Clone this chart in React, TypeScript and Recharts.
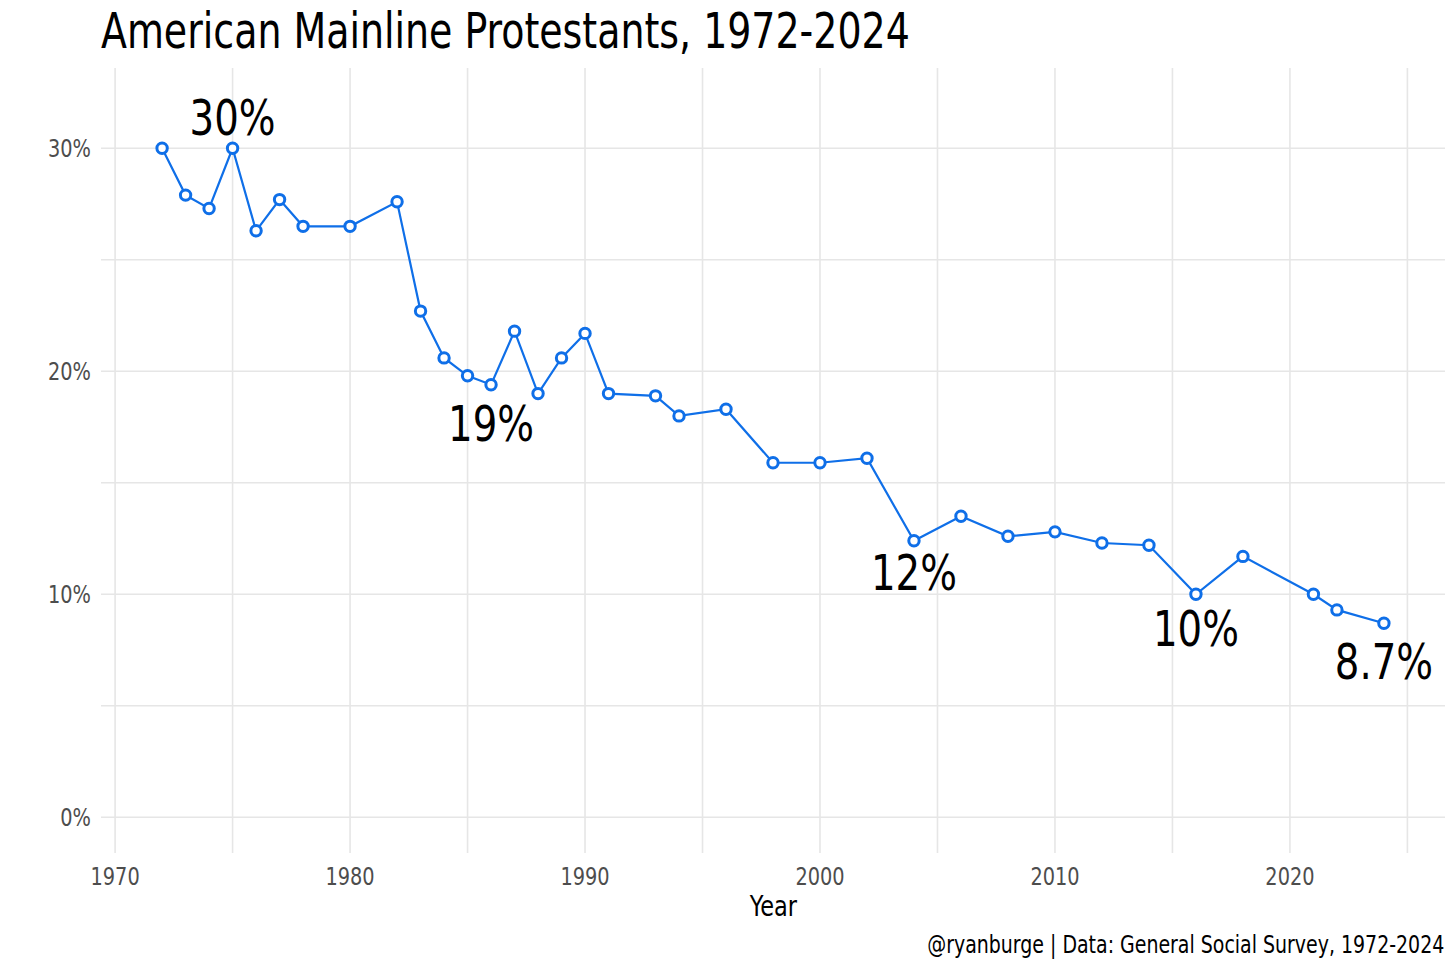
import React from 'react';
import { LineChart, Line, XAxis, YAxis, ReferenceLine, ReferenceDot } from 'recharts';

const years = [1972, 1973, 1974, 1975, 1976, 1977, 1978, 1980, 1982, 1983, 1984, 1985, 1986, 1987, 1988, 1989, 1990, 1991, 1993, 1994, 1996, 1998, 2000, 2002, 2004, 2006, 2008, 2010, 2012, 2014, 2016, 2018, 2021, 2022, 2024];
const shares = [30.0, 27.9, 27.3, 30.0, 26.3, 27.7, 26.5, 26.5, 27.6, 22.7, 20.6, 19.8, 19.4, 21.8, 19.0, 20.6, 21.7, 19.0, 18.9, 18.0, 18.3, 15.9, 15.9, 16.1, 12.4, 13.5, 12.6, 12.8, 12.3, 12.2, 10.0, 11.7, 10.0, 9.3, 8.7];

// annotation text and where it sits (data units)
const labelYears = [1975, 1986, 2004, 2016, 2024];
const labelY = [31.4, 17.7, 11.0, 8.5, 7.0];
const labelText = ['30%', '19%', '12%', '10%', '8.7%'];

const xTicks = [1970, 1980, 1990, 2000, 2010, 2020];
const xMinor = [1975, 1985, 1995, 2005, 2015, 2025];
const yTicks = [0, 10, 20, 30];
const yMinor = [5, 15, 25];

const data = years.map((y, i) => ({ year: y, share: shares[i] }));

const FONT = '"DejaVu Sans Condensed", "Liberation Sans Narrow", "Roboto", sans-serif';
const BLUE = '#0f6fe8';
const GRID = '#e6e6e6';
const SQUEEZE = 0.86;

// narrow font look: squeeze text horizontally
const XTick = (props: any) => {
    const { x, y, payload } = props;
    return (
        <g transform={`translate(${x},${y}) scale(${SQUEEZE},1)`}>
            <text textAnchor="middle" dy="0.71em" fontSize={25} fill="#4d4d4d" fontFamily={FONT}>{payload.value}</text>
        </g>
    );
};

const YTick = (props: any) => {
    const { x, y, payload } = props;
    return (
        <g transform={`translate(${x},${y}) scale(${SQUEEZE},1)`}>
            <text textAnchor="end" dy="0.36em" fontSize={25} fill="#4d4d4d" fontFamily={FONT}>{`${payload.value}%`}</text>
        </g>
    );
};

export default function App() {
    const W = 1456;
    const H = 970;
    return (
        <div style={{ position: 'absolute', left: 0, top: 0, width: W, height: H, background: '#fff', fontFamily: FONT }}>
            <div style={{ position: 'absolute', left: 101, top: 4, fontSize: 49, color: '#000', whiteSpace: 'nowrap', lineHeight: '56px', transform: `scaleX(${SQUEEZE})`, transformOrigin: 'left' }}>
                American Mainline Protestants, 1972-2024
            </div>
            <LineChart width={W} height={H} data={data} margin={{ top: 68, right: 11, bottom: 57, left: 0 }}>
                {xMinor.concat(xTicks).map(v => (
                    <ReferenceLine key={'x' + v} x={v} stroke={GRID} strokeWidth={1.6} />
                ))}
                {yMinor.concat(yTicks).map(v => (
                    <ReferenceLine key={'y' + v} y={v} stroke={GRID} strokeWidth={1.6} />
                ))}
                <XAxis
                    dataKey="year"
                    type="number"
                    domain={[1969.4, 2026.6]}
                    ticks={xTicks}
                    axisLine={false}
                    tickLine={false}
                    tickSize={0}
                    tickMargin={14}
                    height={60}
                    tick={<XTick />}
                />
                <YAxis
                    type="number"
                    domain={[-1.6, 33.6]}
                    ticks={yTicks}
                    axisLine={false}
                    tickLine={false}
                    tickSize={0}
                    tickMargin={10}
                    width={101}
                    tick={<YTick />}
                />
                <Line
                    type="linear"
                    dataKey="share"
                    stroke={BLUE}
                    strokeWidth={2.2}
                    dot={{ r: 5.2, fill: '#fff', stroke: BLUE, strokeWidth: 3 }}
                    activeDot={false}
                    isAnimationActive={false}
                />
                {labelYears.map((yr, i) => (
                    <ReferenceDot
                        key={'l' + yr}
                        x={yr}
                        y={labelY[i]}
                        r={1}
                        shape={(p: any) => (
                            <g transform={`translate(${p.cx},${p.cy}) scale(${SQUEEZE},1)`}>
                                <text textAnchor="middle" dy="0.36em" fontSize={50} fill="#000" fontFamily={FONT}>{labelText[i]}</text>
                            </g>
                        )}
                    />
                ))}
            </LineChart>
            <div style={{ position: 'absolute', left: 101, width: 1344, top: 888, textAlign: 'center', color: '#000' }}>
                <span style={{ display: 'inline-block', fontSize: 29, lineHeight: '36px', transform: `scaleX(${SQUEEZE})` }}>Year</span>
            </div>
            <div style={{ position: 'absolute', right: 12, top: 929, fontSize: 24.5, color: '#000', whiteSpace: 'nowrap', lineHeight: '32px', transform: `scaleX(${SQUEEZE})`, transformOrigin: 'right' }}>
                @ryanburge | Data: General Social Survey, 1972-2024
            </div>
        </div>
    );
}
